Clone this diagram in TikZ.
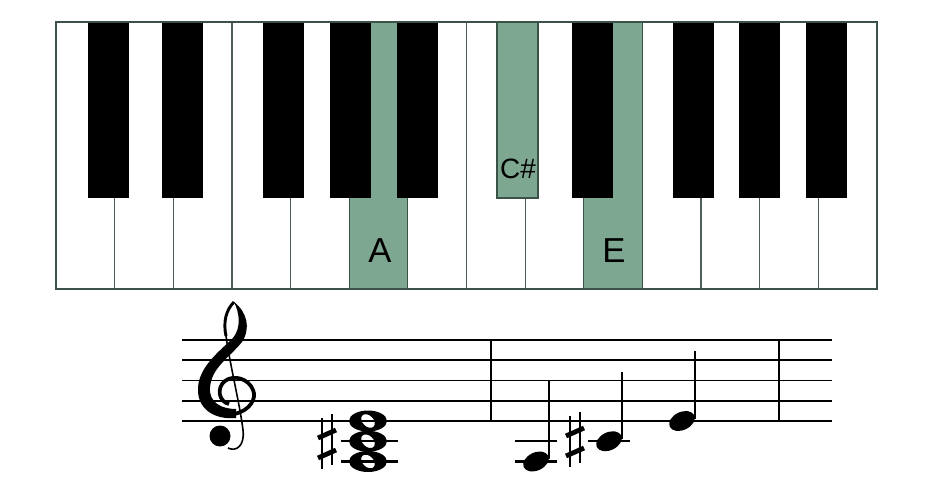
\documentclass[tikz,border=0pt]{standalone}
\usepackage{fontspec}
\setmainfont{Liberation Sans}
\usepackage{xcolor}
\usepackage{tikz}
\usetikzlibrary{positioning}

\definecolor{keygreen}{RGB}{125,167,144}
\definecolor{keyline}{RGB}{80,94,90}
\definecolor{frameline}{RGB}{58,82,72}

\begin{document}
\begin{tikzpicture}[
    x=0.75pt, y=-0.75pt,
    whitekey/.style={draw=keyline, line width=0.9pt, fill=white},
    chordkey/.style={draw=frameline, line width=0.8pt, fill=keygreen},
    blackkey/.style={fill=black},
    keylabel/.style={inner sep=0pt, text=black, font=\fontsize{26}{26}\selectfont},
    staffline/.style={line width=1.3pt},
    ledger/.style={line width=1.6pt},
    stem/.style={line width=1.5pt},
    barline/.style={line width=2pt},
    wholenote/.pic={\fill[even odd rule] (0,0) ellipse [x radius=19, y radius=10.5]
        (0,0) ellipse [x radius=8, y radius=5.5, rotate=-45];},
    quarternote/.pic={\fill (0,0) ellipse [x radius=13.5, y radius=9, rotate=25];},
    sharpsign/.pic={
        \draw[line width=0.9pt] (-5,-25) -- (-5,26);
        \draw[line width=0.9pt] (5,-29) -- (5,22);
        \draw[line width=3.6pt] (-9,-5) -- (9,-13);
        \draw[line width=3.6pt] (-9,15) -- (9,7);}
]
\useasboundingbox (0,0) rectangle (940,503);

% keyboard
\foreach \i in {0,...,13}
    \draw[whitekey] ({56+\i*58.64},22) rectangle ++(58.64,267);
\draw[chordkey] ({56+5*58.64},22) rectangle ++(58.64,267);
\draw[chordkey] ({56+9*58.64},22) rectangle ++(58.64,267);
\foreach \bx in {88,162,263,330,397,572,673,739,806}
    \fill[blackkey] (\bx,22) rectangle ++(41,176);
\draw[chordkey] (497,22) rectangle ++(41,176);
\draw[frameline, line width=1.5pt] (56,22) rectangle (877,289);

\node[keylabel] (labelA) at (380,251) {A};
\node[keylabel] (labelE) at (614,251) {E};
\node[keylabel, font=\fontsize{21}{21}\selectfont] (labelCs) at (518,169) {C\#};

% staff
\foreach \ly in {340,360.25,380.5,400.75,421}
    \draw[staffline] (182,\ly) -- (832,\ly);
\draw[barline] (491,340) -- (491,421);
\draw[barline] (779,340) -- (779,421);

% treble clef
\fill (234,302) .. controls (247,312) and (251,328) .. (242,342)
    .. controls (229,358) and (211,368) .. (210,388)
    .. controls (209,403) and (222,409) .. (236,409)
    -- (236,418)
    .. controls (213,420) and (197,408) .. (198,388)
    .. controls (199,366) and (221,350) .. (233,338)
    .. controls (241,328) and (240,314) .. (234,302) -- cycle;
\draw[line width=2.2pt] (234,302) .. controls (226,310) and (223,322) .. (226,336);
\draw[line width=1.2pt] (226,336) .. controls (230,365) and (240,405) .. (243,430)
    .. controls (245,446) and (236,452) .. (228,448);
\fill (220,436) circle [radius=10.5];
\draw[line width=2.8pt] (234,414) .. controls (250,411) and (257,398) .. (253,390)
    .. controls (249,379) and (234,374) .. (225,381)
    .. controls (216,388) and (219,402) .. (229,404);

% chord
\draw[ledger] (341,441.25) -- (398,441.25);
\draw[ledger] (341,461.5) -- (398,461.5);
\pic at (368,421) {wholenote};
\pic at (368,441.25) {wholenote};
\pic at (368,461.5) {wholenote};
\pic at (327,443) {sharpsign};

% broken chord
\draw[ledger] (515,441.25) -- (557,441.25);
\draw[ledger] (515,461.5) -- (557,461.5);
\draw[ledger] (588,441.25) -- (630,441.25);
\pic at (536,461.5) {quarternote};
\draw[stem] (549,459) -- (549,381);
\pic at (575,441) {sharpsign};
\pic at (609,441.25) {quarternote};
\draw[stem] (622,439) -- (622,372);
\pic at (682,421) {quarternote};
\draw[stem] (695,419) -- (695,351);
\end{tikzpicture}
\end{document}
